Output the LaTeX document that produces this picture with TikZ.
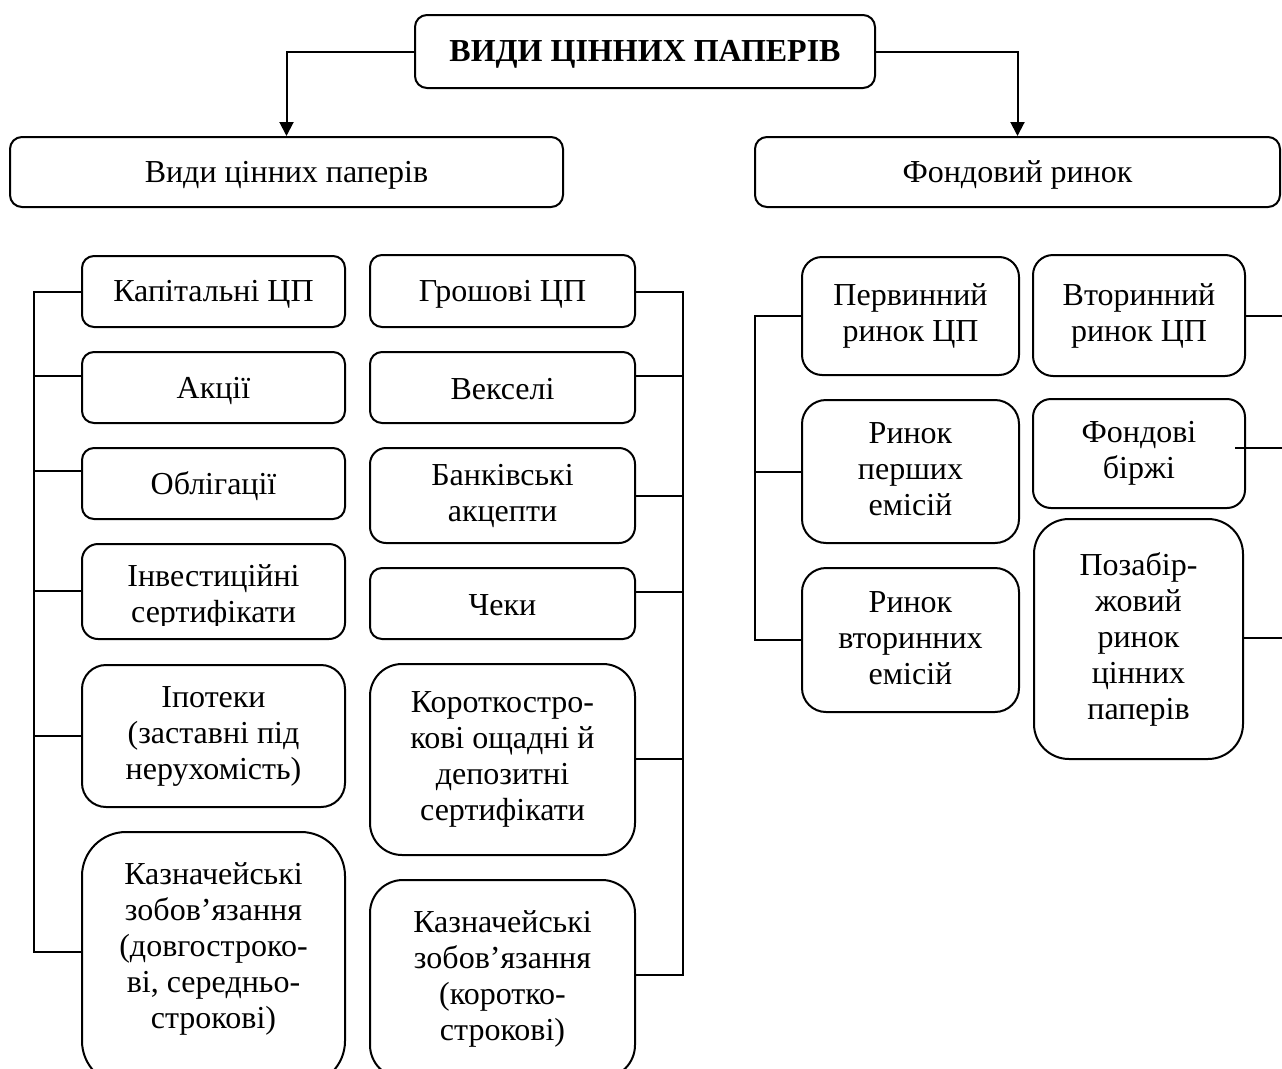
\documentclass[tikz,border=0pt]{standalone}
\usepackage{fontspec}
\setmainfont{Liberation Serif}
\usetikzlibrary{arrows.meta}

% line strut: sets the ascent and descent of a text line
\newcommand\linestrut{\rule[-4pt]{0pt}{31.5pt}}

\tikzset{
  txt/.style={font=\fontsize{32}{36}\selectfont},
  box/.style={draw, line width=2pt, align=center, inner sep=0pt, txt,
              execute at begin node=\linestrut, execute at end node=\linestrut},
  colA/.style={box, minimum width=263pt},
  colB/.style={box, minimum width=265pt},
  colC/.style={box, minimum width=217pt},
  colD/.style={box, minimum width=212pt},
  link/.style={line width=2pt},
  arrowlink/.style={line width=2pt, -{Triangle[length=14pt,width=14pt]}},
}

\begin{document}
\begin{tikzpicture}[x=1pt,y=-1pt]
\useasboundingbox (0,0) rectangle (1282,1068);
\clip (0,0) rectangle (1282,1068);
\fill[white] (0,0) rectangle (1282,1068);

% heading and the two branches
\node[box, minimum width=460pt, minimum height=73pt, rounded corners=12pt,
      font=\fontsize{32}{36}\selectfont\bfseries] (title) at (645,51.5) {ВИДИ ЦІННИХ ПАПЕРІВ};
\node[box, minimum width=553pt, minimum height=70pt, rounded corners=12pt] (vydy) at (286.5,172) {Види цінних паперів};
\node[box, minimum width=525pt, minimum height=70pt, rounded corners=12pt] (fond) at (1017.5,172) {Фондовий ринок};

\draw[arrowlink] (title.west) -| (vydy.north);
\draw[arrowlink] (title.east) -| (fond.north);

% capital securities
\node[colA, minimum height=71pt, rounded corners=12pt] (kap) at (213.5,291.5) {Капітальні ЦП};
\node[colA, minimum height=71pt, rounded corners=12pt] (akc) at (213.5,387.5) {Акції};
\node[colA, minimum height=71pt, rounded corners=12pt] (obl) at (213.5,483.5) {Облігації};
\node[colA, minimum height=95pt, rounded corners=16pt,
      path picture={
        \clip (path picture bounding box.north west) rectangle ([yshift=14pt]path picture bounding box.south east);
        \node[align=center, inner sep=0pt, txt] at ([yshift=-2.75pt]path picture bounding box.center) {\linestrut Інвестиційні\\сертифікати\linestrut};
      }] (inv) at (213.5,591.5) {};
\node[colA, minimum height=142pt, rounded corners=24pt] (ipo) at (213.5,736) {Іпотеки\\(заставні під\\нерухомість)};
\node[colA, minimum height=253pt, rounded corners=44pt,
      label={[txt, align=center, inner sep=0pt, yshift=12.25pt]center:{\linestrut Казначейські\\зобов’язання\\(довгостроко-\\ві, середньо-\\строкові)\linestrut}}] (kazL) at (213.5,958.5) {};

% money market securities
\node[colB, minimum height=72pt, rounded corners=12pt] (gro) at (502.5,291) {Грошові ЦП};
\node[colB, minimum height=71pt, rounded corners=12pt] (vek) at (502.5,387.5) {Векселі};
\node[colB, minimum height=95pt, rounded corners=16pt] (bank) at (502.5,495.5) {Банківські\\акцепти};
\node[colB, minimum height=71pt, rounded corners=12pt] (chek) at (502.5,603.5) {Чеки};
\node[colB, minimum height=191pt, rounded corners=32pt] (kor) at (502.5,759.5) {Короткостро-\\кові ощадні й\\депозитні\\сертифікати};
\node[colB, minimum height=198pt, rounded corners=33pt] (kazR) at (502.5,979) {Казначейські\\зобов’язання\\(коротко-\\строкові)};

% stock market
\node[colC, minimum height=118pt, rounded corners=20pt] (perv) at (910.5,316) {Первинний\\ринок ЦП};
\node[colC, minimum height=143pt, rounded corners=24pt] (rpe) at (910.5,471.5) {Ринок\\перших\\емісій};
\node[colC, minimum height=144pt, rounded corners=24pt] (rve) at (910.5,640) {Ринок\\вторинних\\емісій};
\node[colD, minimum height=121pt, rounded corners=20pt] (vtor) at (1139,315.5) {Вторинний\\ринок ЦП};
\node[colD, minimum height=109pt, rounded corners=18pt] (birzh) at (1139,453.5) {Фондові\\біржі};
\node[colD, minimum width=209pt, minimum height=240pt, rounded corners=35pt] (poza) at (1138.5,639) {Позабір-\\жовий\\ринок\\цінних\\паперів};

% bracket of the capital securities
\coordinate (la1) at (34,292);
\coordinate (la2) at (34,376);
\coordinate (la3) at (34,471);
\coordinate (la4) at (34,591);
\coordinate (la5) at (34,736);
\coordinate (la6) at (34,952);
\draw[link] (la1 -| kap.west) -- (la1) -- (la6) -- (la6 -| kazL.west);
\draw[link] (la2) -- (la2 -| akc.west);
\draw[link] (la3) -- (la3 -| obl.west);
\draw[link] (la4) -- (la4 -| inv.west);
\draw[link] (la5) -- (la5 -| ipo.west);

% bracket of the money market securities
\coordinate (rb1) at (683,292);
\coordinate (rb2) at (683,376);
\coordinate (rb3) at (683,496);
\coordinate (rb4) at (683,592);
\coordinate (rb5) at (683,759);
\coordinate (rb6) at (683,975);
\draw[link] (rb1 -| gro.east) -- (rb1) -- (rb6) -- (rb6 -| kazR.east);
\draw[link] (rb2) -- (rb2 -| vek.east);
\draw[link] (rb3) -- (rb3 -| bank.east);
\draw[link] (rb4) -- (rb4 -| chek.east);
\draw[link] (rb5) -- (rb5 -| kor.east);

% bracket of the primary market
\coordinate (lc1) at (755,316);
\coordinate (lc2) at (755,471.5);
\coordinate (lc3) at (755,640);
\draw[link] (lc1 -| perv.west) -- (lc1) -- (lc3) -- (lc3 -| rve.west);
\draw[link] (lc2) -- (lc2 -| rpe.west);

% bracket of the secondary market
\coordinate (rd1) at (1300,316);
\coordinate (rd2) at (1300,448);
\coordinate (rd3) at (1300,638);
\coordinate (bz) at (1235,448);
\draw[link] (rd1 -| vtor.east) -- (rd1) -- (rd3) -- (rd3 -| poza.east);
\draw[link] (bz) -- (rd2);
\end{tikzpicture}
\end{document}
